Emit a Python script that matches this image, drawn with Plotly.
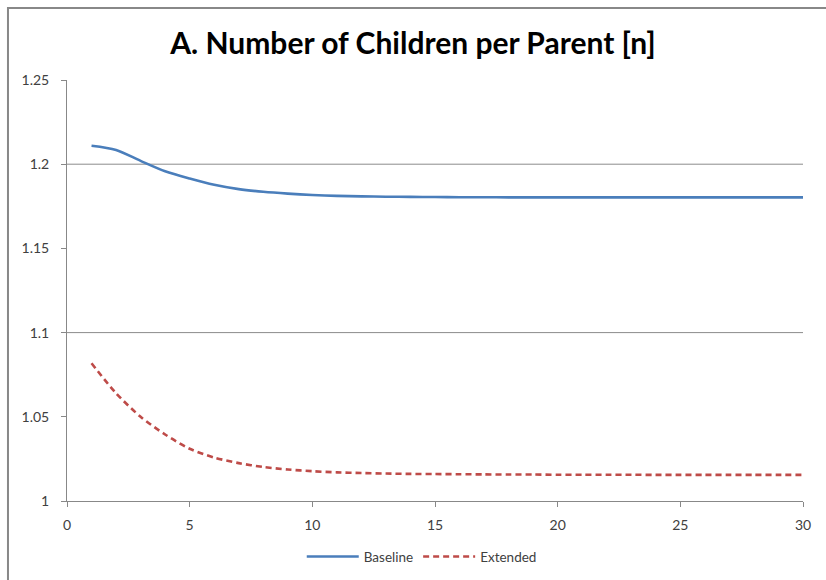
import plotly.graph_objects as go

years = list(range(1, 31))
baseline = [1.2110, 1.2085, 1.2020, 1.1958, 1.1915, 1.1878, 1.1852, 1.1836, 1.1825, 1.1817,
            1.1812, 1.1809, 1.1807, 1.1806, 1.1805, 1.1804, 1.1804, 1.1803, 1.1803, 1.1803,
            1.1803, 1.1803, 1.1803, 1.1803, 1.1803, 1.1803, 1.1803, 1.1803, 1.1803, 1.1803]
extended = [1.0818, 1.0640, 1.0500, 1.0395, 1.0310, 1.0258, 1.0225, 1.0202, 1.0187, 1.0177,
            1.0170, 1.0166, 1.0163, 1.0161, 1.0160, 1.0159, 1.0158, 1.0157, 1.0157, 1.0156,
            1.0156, 1.0156, 1.0156, 1.0155, 1.0155, 1.0155, 1.0155, 1.0155, 1.0155, 1.0155]
gridvals = [1.1, 1.2]
title = "A. Number of Children per Parent [n]"

fig = go.Figure()
fig.add_trace(go.Scatter(x=years, y=baseline, mode="lines", name="Baseline",
                         line=dict(color="#4a7ebb", width=2.6, shape="spline", smoothing=0.8)))
fig.add_trace(go.Scatter(x=years, y=extended, mode="lines", name="Extended",
                         line=dict(color="#be4b48", width=2.6, dash="6px,4px", shape="spline", smoothing=0.8)))

shapes = [dict(type="rect", xref="paper", yref="paper",
               x0=-0.0802, x1=1.2, y0=1.1710, y1=-0.5,
               line=dict(color="#888888", width=2), fillcolor="rgba(0,0,0,0)", layer="below")]
for g in gridvals:
    shapes.append(dict(type="line", xref="paper", yref="y", x0=0, x1=1, y0=g, y1=g,
                       line=dict(color="#8c8c8c", width=1), layer="below"))

fig.update_layout(
    width=826, height=580,
    margin=dict(l=67, r=23, t=80, b=79, autoexpand=False),
    paper_bgcolor="white", plot_bgcolor="white",
    font=dict(family="Lato, Open Sans, sans-serif", size=14, color="#404040"),
    title=dict(text="<b>" + title + "</b>", x=0.5, xanchor="center", y=0.925, yanchor="middle",
               font=dict(size=30, color="black", family="Lato, Open Sans, sans-serif")),
    showlegend=True,
    legend=dict(orientation="h", x=0.482, xanchor="center", yref="container", y=0.04, yanchor="middle",
                font=dict(size=13.5, color="#404040"), itemwidth=52, traceorder="normal"),
    shapes=shapes,
)
fig.update_xaxes(range=[0, 30], dtick=5, tick0=0, showgrid=False, showline=True,
                 linecolor="#888888", linewidth=1, ticks="outside", ticklen=5,
                 tickcolor="#888888", zeroline=False, ticklabelstandoff=6)
fig.update_yaxes(range=[1, 1.25], dtick=0.05, tick0=1, showgrid=False, showline=True,
                 linecolor="#888888", linewidth=1, ticks="outside", ticklen=5,
                 tickcolor="#888888", zeroline=False, tickformat="~r", ticklabelstandoff=9)

fig.write_html("out.html", post_script="document.body.style.margin='0';",
               config={"displayModeBar": False})
